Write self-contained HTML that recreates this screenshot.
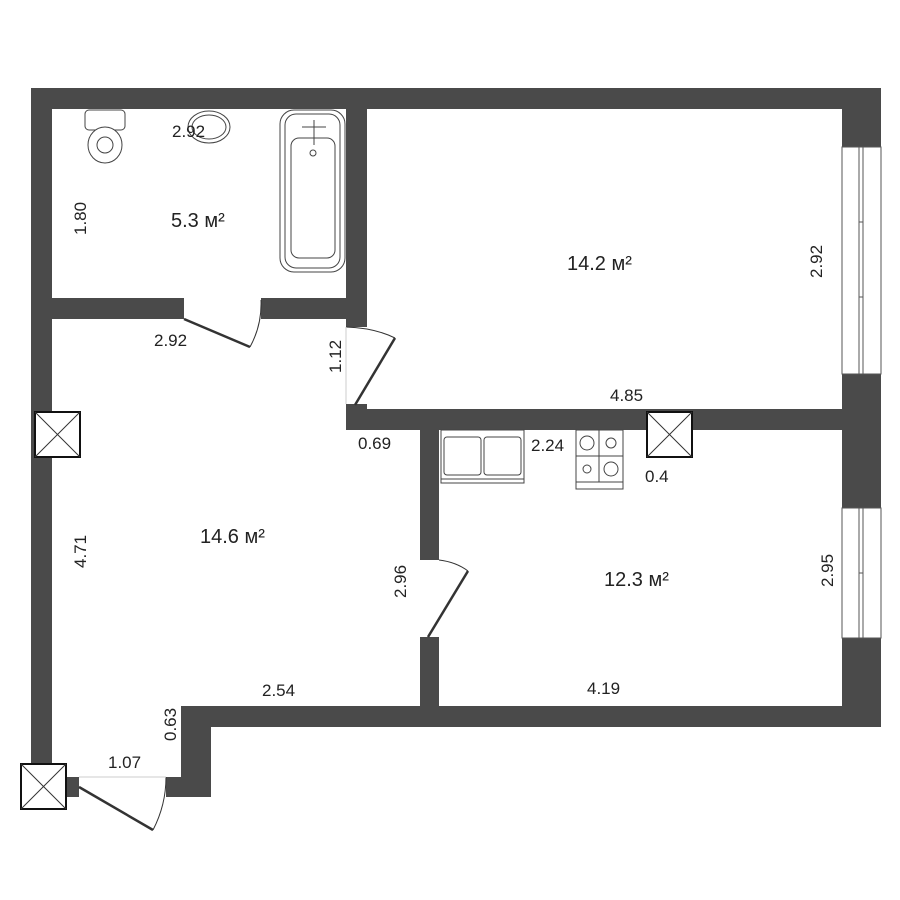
<!DOCTYPE html>
<html><head><meta charset="utf-8"><style>
html,body{margin:0;padding:0;background:#fff;}
svg{display:block;}
text{font-family:"Liberation Sans Narrow","Liberation Sans",sans-serif;fill:#222;}
</style></head><body>
<svg width="900" height="900" viewBox="0 0 900 900" xmlns="http://www.w3.org/2000/svg">
<g fill="#4a4a4a">
<!-- top wall -->
<rect x="31" y="88" width="850" height="21"/>
<!-- left wall -->
<rect x="31" y="88" width="21" height="675"/>
<!-- right wall segments -->
<rect x="842" y="88" width="39" height="59"/>
<rect x="842" y="374" width="39" height="134"/>
<rect x="842" y="638" width="39" height="89"/>
<!-- bathroom right wall -->
<rect x="346" y="88" width="21" height="239"/>
<!-- bath/corridor wall -->
<rect x="52" y="298" width="132" height="21"/>
<rect x="261" y="298" width="85" height="21"/>
<!-- block + horizontal wall -->
<rect x="346" y="404" width="21" height="26"/>
<rect x="346" y="409" width="535" height="21"/>
<!-- kitchen left wall -->
<rect x="420" y="409" width="19" height="151"/>
<rect x="420" y="637" width="19" height="90"/>
<!-- bottom wall -->
<rect x="181" y="706" width="700" height="21"/>
<rect x="181" y="706" width="30" height="91"/>
<rect x="166" y="777" width="45" height="20"/>
<rect x="67" y="777" width="12" height="20"/>
</g>
<!-- windows -->
<g fill="none" stroke="#555" stroke-width="1">
<rect x="842" y="147" width="39" height="227"/>
<rect x="859" y="147" width="4" height="227"/>
<line x1="859" y1="222" x2="863" y2="222"/><line x1="859" y1="297" x2="863" y2="297"/>
<rect x="842" y="508" width="39" height="130"/>
<rect x="859" y="508" width="4" height="130"/>
<line x1="859" y1="573" x2="863" y2="573"/>
</g>
<!-- doors -->
<g fill="none" stroke="#333">
<line x1="184" y1="319" x2="250" y2="347" stroke-width="2.5"/>
<path d="M250 347 Q262 325 261 300" stroke-width="1"/>
<line x1="355" y1="405" x2="395" y2="338" stroke-width="2.5"/>
<path d="M346 327 Q375 328 395 338" stroke-width="1"/>
<line x1="428" y1="637" x2="468" y2="571" stroke-width="2.5"/>
<path d="M439 560 Q456 562 468 571" stroke-width="1"/>
<line x1="79" y1="787" x2="153" y2="830" stroke-width="2.5"/>
<path d="M153 830 Q166 805 166 777" stroke-width="1"/>
<line x1="79" y1="777" x2="166" y2="777" stroke="#ccc" stroke-width="1"/>
<line x1="346" y1="327" x2="346" y2="404" stroke="#ccc" stroke-width="1"/>
</g>
<!-- vents -->
<g fill="#fff" stroke="#111" stroke-width="2">
<rect x="35" y="412" width="45" height="45"/>
<rect x="647" y="412" width="45" height="45"/>
<rect x="21" y="764" width="45" height="45"/>
</g>
<g stroke="#333" stroke-width="1">
<line x1="35" y1="412" x2="80" y2="457"/><line x1="80" y1="412" x2="35" y2="457"/>
<line x1="647" y1="412" x2="692" y2="457"/><line x1="692" y1="412" x2="647" y2="457"/>
<line x1="21" y1="764" x2="66" y2="809"/><line x1="66" y1="764" x2="21" y2="809"/>
</g>
<!-- fixtures -->
<g fill="#fff" stroke="#444" stroke-width="1">
<rect x="85" y="110" width="40" height="20" rx="4"/>
<ellipse cx="105" cy="145" rx="17" ry="18"/>
<ellipse cx="105" cy="145" rx="8" ry="8"/>
<ellipse cx="209" cy="127" rx="21" ry="16"/>
<ellipse cx="209" cy="127" rx="17" ry="12"/>
<rect x="280" y="110" width="65" height="162" rx="14"/>
<rect x="285" y="114" width="55" height="154" rx="11"/>
<rect x="291" y="138" width="44" height="120" rx="8"/>
<line x1="314" y1="120" x2="314" y2="145"/><line x1="302" y1="127" x2="326" y2="127"/>
<circle cx="313" cy="153" r="3"/>
<rect x="441" y="430" width="83" height="53"/>
<rect x="444" y="437" width="37" height="38" rx="3"/>
<rect x="484" y="437" width="37" height="38" rx="3"/>
<line x1="441" y1="479" x2="524" y2="479"/>
<rect x="576" y="430" width="47" height="59"/>
<line x1="599" y1="430" x2="599" y2="482"/><line x1="576" y1="456" x2="623" y2="456"/>
<line x1="576" y1="482" x2="623" y2="482"/>
<circle cx="587" cy="443" r="7"/><circle cx="611" cy="443" r="5"/>
<circle cx="587" cy="469" r="4"/><circle cx="611" cy="469" r="7"/>
</g>
<!-- labels -->
<g font-size="17">
<text x="171" y="227" font-size="20">5.3 м²</text>
<text x="567" y="270" font-size="20">14.2 м²</text>
<text x="200" y="543" font-size="20">14.6 м²</text>
<text x="604" y="586" font-size="20">12.3 м²</text>
<text x="172" y="137">2.92</text>
<text x="154" y="346">2.92</text>
<text x="610" y="401">4.85</text>
<text x="358" y="449">0.69</text>
<text x="531" y="451">2.24</text>
<text x="645" y="482">0.4</text>
<text x="262" y="696">2.54</text>
<text x="587" y="694">4.19</text>
<text x="108" y="768">1.07</text>
<text transform="translate(86,235) rotate(-90)">1.80</text>
<text transform="translate(341,373) rotate(-90)">1.12</text>
<text transform="translate(86,568) rotate(-90)">4.71</text>
<text transform="translate(406,598) rotate(-90)">2.96</text>
<text transform="translate(176,741) rotate(-90)">0.63</text>
<text transform="translate(822,278) rotate(-90)">2.92</text>
<text transform="translate(833,587) rotate(-90)">2.95</text>
</g>
</svg>
</body></html>
